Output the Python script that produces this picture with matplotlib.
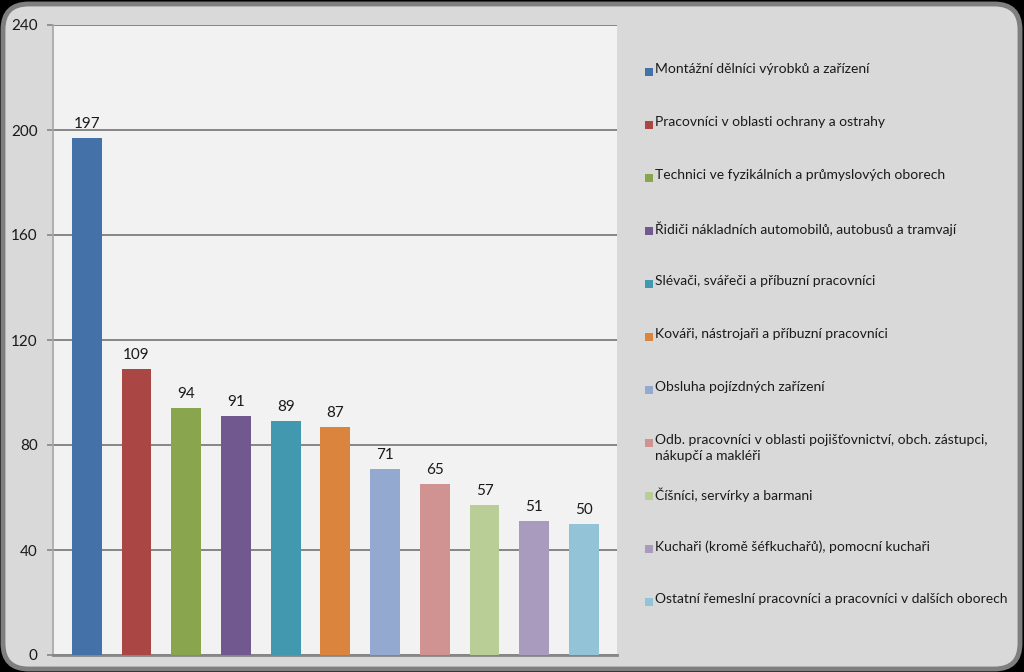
import matplotlib
matplotlib.use("Agg")
import matplotlib.pyplot as plt
from matplotlib.patches import FancyBboxPatch, Rectangle

categories = [
    "Montážní dělníci výrobků a zařízení",
    "Pracovníci v oblasti ochrany a ostrahy",
    "Technici ve fyzikálních a průmyslových oborech",
    "Řidiči nákladních automobilů, autobusů a tramvají",
    "Slévači, svářeči a příbuzní pracovníci",
    "Kováři, nástrojaři a příbuzní pracovníci",
    "Obsluha pojízdných zařízení",
    "Odb. pracovníci v oblasti pojišťovnictví, obch. zástupci,\nnákupčí a makléři",
    "Číšníci, servírky a barmani",
    "Kuchaři (kromě šéfkuchařů), pomocní kuchaři",
    "Ostatní řemeslní pracovníci a pracovníci v dalších oborech",
]
values = [197, 109, 94, 91, 89, 87, 71, 65, 57, 51, 50]
colors = ["#4471A8", "#AA4643", "#89A54E", "#71588F", "#4198AF", "#DB843D",
          "#93A9CF", "#D19392", "#B9CD96", "#A99BBD", "#92C3D6"]
yticks = [0, 40, 80, 120, 160, 200, 240]

plt.rcParams['font.family'] = ['Lato', 'DejaVu Sans']

W, H = 1024, 672
fig = plt.figure(figsize=(W / 100, H / 100), dpi=100, facecolor="black")

# rounded outer frame
frame = FancyBboxPatch((3 / W, 3 / H), (W - 7) / W, (H - 7) / H,
                       boxstyle="round,pad=0,rounding_size=0.025",
                       transform=fig.transFigure, facecolor="#d9d9d9",
                       edgecolor="#7f7f7f", linewidth=3.5, zorder=-5,
                       mutation_aspect=W / H)
fig.patches.append(frame)

ax = fig.add_axes([53 / W, (H - 655) / H, (617 - 53) / W, (655 - 25) / H])
ax.set_zorder(2)
ax.set_facecolor("#f2f2f2")
x = list(range(len(values)))
bars = ax.bar(x, values, width=0.6, color=colors, zorder=3)
for xi, v in zip(x, values):
    ax.annotate(str(v), (xi, v), xytext=(0, 5), textcoords="offset points",
                ha="center", va="bottom", fontsize=11, color="#1a1a1a")

ax.set_xlim(-0.68, len(values) - 1 + 0.665)
ax.set_ylim(0, 240)
ax.set_yticks(yticks)
ax.set_yticklabels([str(t) for t in yticks], fontsize=11, color="#1a1a1a")
ax.set_xticks([])
ax.yaxis.grid(True, color="#868686", linewidth=1.4, zorder=1)
ax.set_axisbelow(True)
ax.tick_params(axis="y", length=4, width=1.2, color="#868686", pad=7)
for s in ["top", "right"]:
    ax.spines[s].set_visible(False)
ax.spines["left"].set_color("#a6a6a6")
ax.spines["left"].set_linewidth(1.2)
ax.spines["bottom"].set_color("#868686")
ax.spines["bottom"].set_linewidth(2)

# legend
for i, (lab, c) in enumerate(zip(categories, colors)):
    yp = 72 + 53 * i
    fig.patches.append(Rectangle((645 / W, 1 - (yp + 4) / H), 8 / W, 8 / H,
                                 transform=fig.transFigure, facecolor=c,
                                 edgecolor="none", zorder=3))
    fig.text(655 / W, 1 - (yp - 9) / H, lab, ha="left", va="top",
             fontsize=10, color="#1a1a1a", linespacing=1.35)

fig.savefig("out.png", dpi=100, facecolor="black")
